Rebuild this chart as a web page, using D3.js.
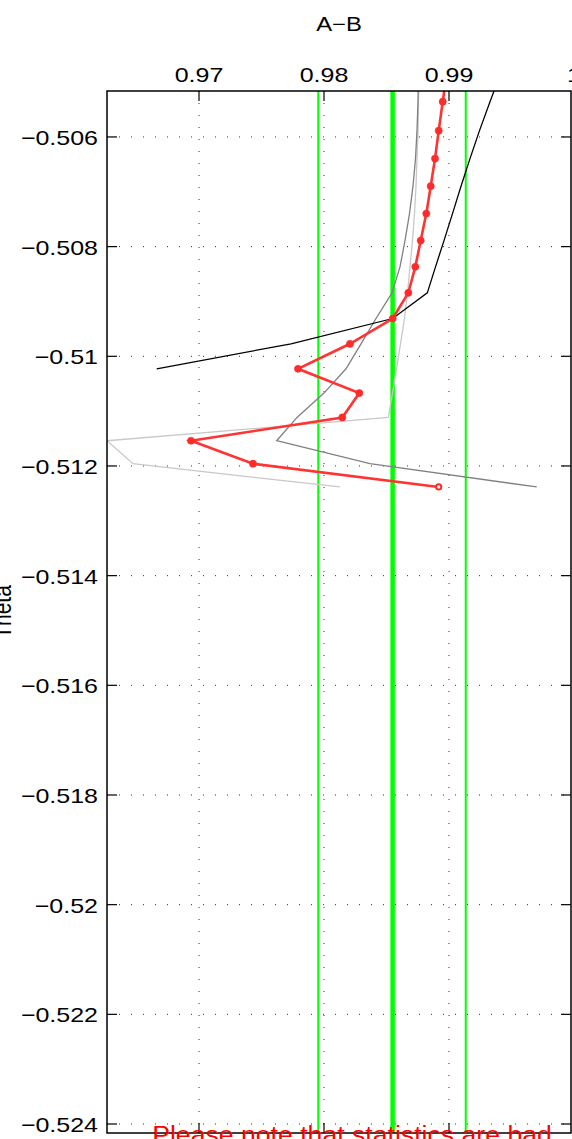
<!DOCTYPE html>
<html>
<head>
<meta charset="utf-8">
<script src="https://cdn.jsdelivr.net/npm/d3@7"></script>
<style>
  body { margin: 0; background: #fff; }
  svg { display: block; font-family: "Liberation Sans", Arial, sans-serif; }
</style>
</head>
<body>
<div id="chart"></div>
<script>
// theta grid shared by every series (top to bottom)
const theta = [-0.504825, -0.505357, -0.505885, -0.506395, -0.506898, -0.507398, -0.50789,
  -0.508369, -0.508843, -0.509311, -0.509772, -0.510228, -0.510671, -0.511115,
  -0.51154, -0.511959, -0.512383];

const redVals = [0.98984, 0.989496, 0.989176, 0.98888, 0.988536, 0.988184, 0.987736,
  0.987304, 0.986744, 0.985496, 0.98208, 0.97792, 0.982824, 0.981464,
  0.96936, 0.97432, 0.989176];
const blackVals = [0.99416, 0.99328, 0.99244, 0.99168, 0.99096, 0.99028, 0.9896,
  0.98892, 0.988264, 0.985496, 0.97736, 0.966616, null, null, null, null, null];
const darkGrayVals = [0.98756, 0.98752, 0.98744, 0.98732, 0.98712, 0.98684, 0.98648,
  0.98608, 0.98544, 0.98416, 0.98296, 0.98176, 0.98, 0.97784, 0.976216, 0.98368, 0.997016];
const lightGrayVals = [0.9876, 0.98756, 0.98752, 0.98744, 0.98736, 0.98724, 0.98708,
  0.98688, 0.98668, 0.98644, 0.98612, 0.9858, 0.98548, 0.985144, 0.96264, 0.96472, 0.98128];

const meanLine = 0.98549;
const bandLines = [0.979544, 0.99134];

const xTicks = [0.97, 0.98, 0.99, 1];
const yTicks = [-0.506, -0.508, -0.51, -0.512, -0.514, -0.516, -0.518, -0.52, -0.522, -0.524];

const W = 572, H = 1139;
const AX = { left: 107, right: 571, top: 91, bottom: 1133 };
const SX = 1.19; // glyphs in the picture are stretched sideways

const svg = d3.select("#chart").append("svg").attr("width", W).attr("height", H);
svg.append("rect").attr("width", W).attr("height", H).attr("fill", "#fff");

const x = d3.scaleLinear().domain([0.96264, 0.99976]).range([AX.left, AX.right]);
const y = d3.scaleLinear().domain([-0.505162, -0.524164]).range([AX.top, AX.bottom]);

svg.append("defs").append("clipPath").attr("id", "clip")
  .append("rect")
  .attr("x", AX.left).attr("y", AX.top)
  .attr("width", AX.right - AX.left).attr("height", AX.bottom - AX.top);

// dotted grid
const grid = svg.append("g").attr("stroke", "#000").attr("stroke-width", 1)
  .attr("stroke-dasharray", "1,11").attr("opacity", 0.8);
xTicks.filter((t) => x(t) < AX.right).forEach((t) => {
  grid.append("line").attr("x1", x(t)).attr("x2", x(t))
    .attr("y1", AX.top).attr("y2", AX.bottom);
});
yTicks.forEach((t) => {
  grid.append("line").attr("x1", AX.left).attr("x2", AX.right)
    .attr("y1", y(t)).attr("y2", y(t));
});

const plot = svg.append("g").attr("clip-path", "url(#clip)");

// green reference lines
plot.append("line").attr("x1", x(meanLine)).attr("x2", x(meanLine))
  .attr("y1", AX.top).attr("y2", AX.bottom)
  .attr("stroke", "#00ff00").attr("stroke-width", 4.5);
bandLines.forEach((v) => {
  plot.append("line").attr("x1", x(v)).attr("x2", x(v))
    .attr("y1", AX.top).attr("y2", AX.bottom)
    .attr("stroke", "#00ff00").attr("stroke-width", 2);
});

const line = d3.line()
  .defined((d) => d.v !== null)
  .x((d) => x(d.v))
  .y((d) => y(d.t));
const toPts = (vals) => vals.map((v, i) => ({ v, t: theta[i] }));

plot.append("path").datum(toPts(lightGrayVals)).attr("d", line)
  .attr("fill", "none").attr("stroke", "#c8c8c8").attr("stroke-width", 1.3);
plot.append("path").datum(toPts(darkGrayVals)).attr("d", line)
  .attr("fill", "none").attr("stroke", "#808080").attr("stroke-width", 1.3);
plot.append("path").datum(toPts(blackVals)).attr("d", line)
  .attr("fill", "none").attr("stroke", "#000").attr("stroke-width", 1.3);

const redPts = toPts(redVals);
plot.append("path").datum(redPts).attr("d", line)
  .attr("fill", "none").attr("stroke", "#ff3333").attr("stroke-width", 2.6);
plot.selectAll("circle.red").data(redPts).enter().append("circle")
  .attr("class", "red")
  .attr("cx", (d) => x(d.v)).attr("cy", (d) => y(d.t))
  .attr("r", (d, i) => (i === redPts.length - 1 ? 2.6 : 3.6))
  .attr("fill", (d, i) => (i === redPts.length - 1 ? "#fff" : "#ff2a2a"))
  .attr("stroke", "#ff2a2a")
  .attr("stroke-width", (d, i) => (i === redPts.length - 1 ? 2 : 0.5));

// box and inward ticks
const axes = svg.append("g").attr("stroke", "#000");
axes.append("rect")
  .attr("x", AX.left).attr("y", AX.top)
  .attr("width", AX.right - AX.left).attr("height", AX.bottom - AX.top)
  .attr("fill", "none").attr("stroke-width", 1.5);
const TL = 10;
xTicks.filter((t) => x(t) < AX.right).forEach((t) => {
  axes.append("line").attr("x1", x(t)).attr("x2", x(t))
    .attr("y1", AX.top).attr("y2", AX.top + TL).attr("stroke-width", 1.2);
  axes.append("line").attr("x1", x(t)).attr("x2", x(t))
    .attr("y1", AX.bottom).attr("y2", AX.bottom - TL).attr("stroke-width", 1.2);
});
yTicks.forEach((t) => {
  axes.append("line").attr("x1", AX.left).attr("x2", AX.left + TL)
    .attr("y1", y(t)).attr("y2", y(t)).attr("stroke-width", 1.2);
  axes.append("line").attr("x1", AX.right).attr("x2", AX.right - TL)
    .attr("y1", y(t)).attr("y2", y(t)).attr("stroke-width", 1.2);
});

const stretchText = (px, py, str, anchor, size, fill, sx) =>
  svg.append("text")
    .attr("transform", `translate(${px},${py}) scale(${sx || SX},1)`)
    .attr("text-anchor", anchor)
    .attr("font-size", size)
    .attr("fill", fill || "#000")
    .text(str);

const fmt = (v) => (v === 1 ? "1" : String(v).replace("-", "\u2212"));

xTicks.forEach((t) => stretchText(x(t), 82, fmt(t), "middle", 21));
yTicks.forEach((t) => stretchText(AX.left - 9, y(t) + 8, fmt(t), "end", 21));

stretchText((AX.left + AX.right) / 2, 31, "A\u2212B", "middle", 20);

svg.append("text")
  .attr("transform", `translate(11,${(AX.top + AX.bottom) / 2}) rotate(-90) scale(1,${SX})`)
  .attr("text-anchor", "middle").attr("font-size", 21).text("Theta");

stretchText(352, 1143, "Please note that statistics are bad", "middle", 24, "#ff0000", 1.11);
</script>
</body>
</html>
